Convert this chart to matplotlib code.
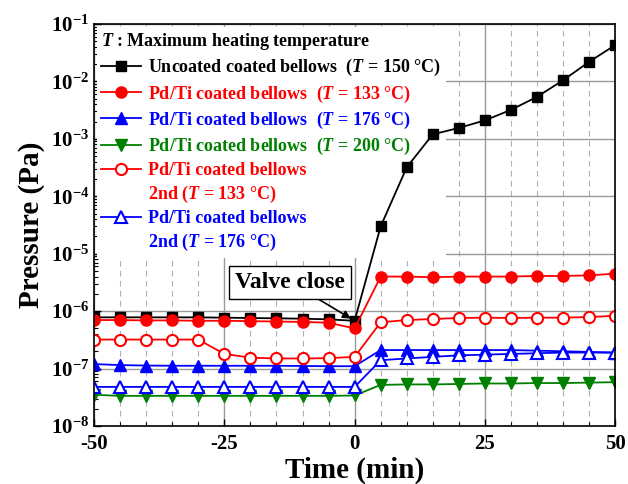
import numpy as np
import matplotlib
matplotlib.use("Agg")
import matplotlib.pyplot as plt
from matplotlib.ticker import FixedLocator, FuncFormatter, LogLocator
from matplotlib.lines import Line2D

plt.rcParams['font.family'] = 'Liberation Serif'
plt.rcParams['font.weight'] = 'bold'
plt.rcParams['axes.unicode_minus'] = False
plt.rcParams['mathtext.fontset'] = 'custom'
plt.rcParams['mathtext.rm'] = 'Liberation Serif:bold'
plt.rcParams['mathtext.bf'] = 'Liberation Serif:bold'
plt.rcParams['mathtext.it'] = 'Liberation Serif:bold:italic'

# time (min)
t = [-50, -45, -40, -35, -30, -25, -20, -15, -10, -5, 0, 5, 10, 15, 20, 25, 30, 35, 40, 45, 50]

# pressure (Pa)
uncoated_150 = [7.8e-7, 7.8e-7, 7.8e-7, 7.8e-7, 7.8e-7, 7.7e-7, 7.6e-7, 7.5e-7, 7.4e-7, 7.2e-7, 6.8e-7,
                3.0e-5, 3.2e-4, 1.2e-3, 1.55e-3, 2.1e-3, 3.2e-3, 5.4e-3, 1.05e-2, 2.2e-2, 4.3e-2]
pdti_133 = [7.0e-7, 7.0e-7, 6.9e-7, 6.9e-7, 6.8e-7, 6.8e-7, 6.7e-7, 6.6e-7, 6.5e-7, 6.3e-7, 5.0e-7,
            4.0e-6, 4.0e-6, 3.9e-6, 4.0e-6, 4.0e-6, 4.0e-6, 4.1e-6, 4.1e-6, 4.2e-6, 4.5e-6]
pdti_176 = [1.2e-7, 1.15e-7, 1.13e-7, 1.12e-7, 1.12e-7, 1.12e-7, 1.12e-7, 1.12e-7, 1.11e-7, 1.1e-7, 1.1e-7,
            2.1e-7, 2.1e-7, 2.1e-7, 2.1e-7, 2.1e-7, 2.1e-7, 2.05e-7, 2.0e-7, 1.95e-7, 1.9e-7]
pdti_200 = [3.5e-8, 3.35e-8, 3.35e-8, 3.35e-8, 3.35e-8, 3.35e-8, 3.35e-8, 3.35e-8, 3.35e-8, 3.35e-8, 3.4e-8,
            5.2e-8, 5.3e-8, 5.3e-8, 5.4e-8, 5.5e-8, 5.5e-8, 5.6e-8, 5.6e-8, 5.7e-8, 5.8e-8]
pdti_133_2nd = [3.2e-7, 3.2e-7, 3.2e-7, 3.2e-7, 3.2e-7, 1.8e-7, 1.55e-7, 1.5e-7, 1.5e-7, 1.52e-7, 1.6e-7,
                6.4e-7, 7.0e-7, 7.3e-7, 7.6e-7, 7.7e-7, 7.6e-7, 7.7e-7, 7.7e-7, 7.9e-7, 8.3e-7]
pdti_176_2nd = [4.8e-8, 4.8e-8, 4.8e-8, 4.8e-8, 4.8e-8, 4.8e-8, 4.8e-8, 4.8e-8, 4.8e-8, 4.8e-8, 4.8e-8,
                1.4e-7, 1.5e-7, 1.6e-7, 1.7e-7, 1.75e-7, 1.8e-7, 1.85e-7, 1.9e-7, 1.9e-7, 1.9e-7]

fig = plt.figure(figsize=(6.28, 4.84), dpi=100)
ax = fig.add_axes([0.1497, 0.1198, 0.8300, 0.8306])

ms = 7.5
lw = 1.3
h1, = ax.plot(t, uncoated_150, '-s', color='black', ms=ms, lw=lw, zorder=3)
h2, = ax.plot(t, pdti_133, '-o', color='red', ms=ms + 0.5, lw=lw, zorder=3)
h3, = ax.plot(t, pdti_176, '-^', color='blue', ms=ms + 1, lw=lw, zorder=3)
h4, = ax.plot(t, pdti_200, '-v', color='green', ms=ms + 1, lw=lw, zorder=3)
h5, = ax.plot(t, pdti_133_2nd, '-o', color='red', ms=ms + 0.5, lw=lw, mfc='white', mew=1.5, zorder=3)
h6, = ax.plot(t, pdti_176_2nd, '-^', color='blue', ms=ms + 1, lw=lw, mfc='white', mew=1.5, zorder=3)

ax.set_yscale('log')
ax.set_ylim(1e-8, 1e-1)
ax.set_xlim(-50, 50)
ax.xaxis.set_major_locator(FixedLocator([-50, -25, 0, 25, 50]))
ax.xaxis.set_minor_locator(FixedLocator(np.arange(-50, 51, 5)))
ax.yaxis.set_major_locator(LogLocator(base=10, numticks=10))
ax.yaxis.set_minor_locator(LogLocator(base=10, subs=np.arange(2, 10), numticks=20))
ax.yaxis.set_major_formatter(FuncFormatter(lambda v, p: r'$\mathbf{10^{%d}}$' % round(np.log10(v))))
ax.tick_params(axis='both', which='both', direction='in', labelsize=15)
ax.tick_params(axis='x', which='major', pad=6)
ax.tick_params(axis='both', which='major', length=5, width=1)
ax.tick_params(axis='both', which='minor', length=3, width=0.8)
ax.tick_params(axis='y', which='minor', labelleft=False)

ax.grid(True, which='major', color='#999999', lw=1.0, ls='-')
ax.grid(True, which='minor', axis='x', color='#b0b0b0', lw=0.8, ls=(0, (5, 4)))
ax.set_axisbelow(True)
for s in ax.spines.values():
    s.set_linewidth(1.2)
    s.set_zorder(4)

ax.set_xlabel('Time (min)', fontsize=21, fontweight='bold', labelpad=2)
ax.set_ylabel('Pressure (Pa)', fontsize=21, fontweight='bold', labelpad=4)

blank = Line2D([], [], color='none')
handles = [h1, h2, h3, h4, h5, blank, h6, blank]
labels = [r'Uncoated coated bellows  ($T$ = 150 °C)',
          r'Pd/Ti coated bellows  ($T$ = 133 °C)',
          r'Pd/Ti coated bellows  ($T$ = 176 °C)',
          r'Pd/Ti coated bellows  ($T$ = 200 °C)',
          'Pd/Ti coated bellows',
          r'2nd ($T$ = 133 °C)',
          'Pd/Ti coated bellows',
          r'2nd ($T$ = 176 °C)']
colors = ['black', 'red', 'blue', 'green', 'red', 'red', 'blue', 'blue']
leg = ax.legend(handles, labels, loc='upper left', bbox_to_anchor=(0.0, 1.0),
                frameon=True, framealpha=1, edgecolor='none', fancybox=False,
                prop={'size': 13, 'weight': 'bold'}, handlelength=2.2, handletextpad=0.4,
                labelspacing=0.28, borderpad=0.25, borderaxespad=0.15,
                title=r'$T$ : Maximum heating temperature',
                title_fontproperties={'size': 13, 'weight': 'bold'}, alignment='left')
leg.set_zorder(2)
for txt, c in zip(leg.get_texts(), colors):
    txt.set_color(c)

ax.annotate('Valve close', xy=(0, 6.8e-7), xytext=(-12.4, 3.2e-6),
            fontsize=17, fontweight='bold', ha='center', va='center', zorder=5,
            bbox=dict(boxstyle='square,pad=0.25', fc='white', ec='black', lw=1),
            arrowprops=dict(arrowstyle='-|>', color='black', lw=1.2,
                            shrinkA=0, shrinkB=3, mutation_scale=12))

fig.savefig('out.png', dpi=100)
